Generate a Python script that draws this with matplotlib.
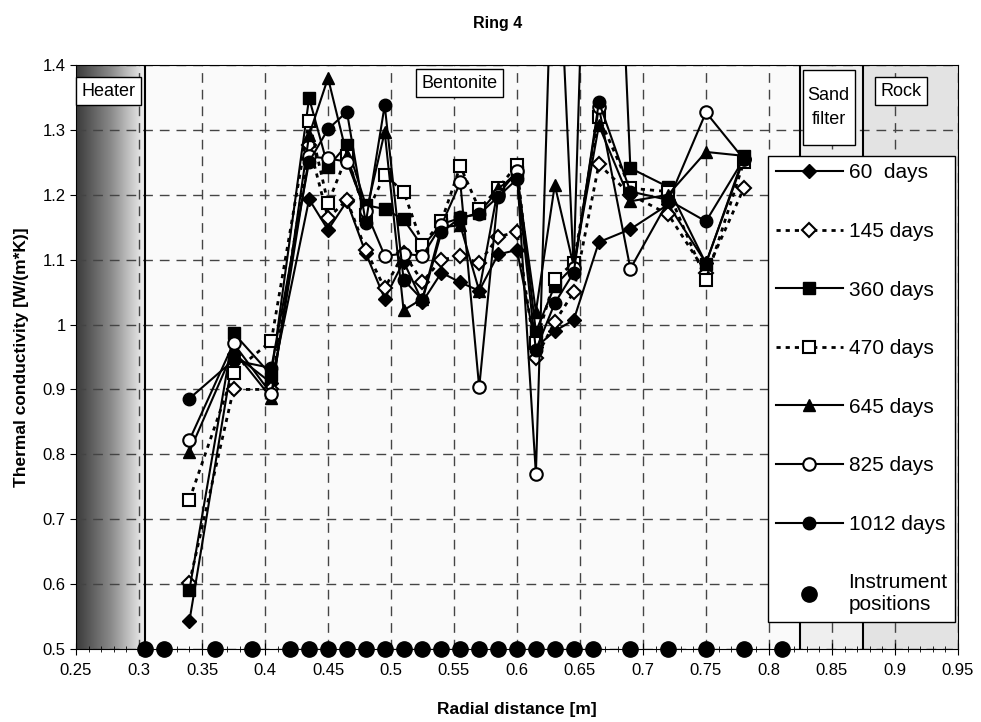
import numpy as np
import matplotlib
matplotlib.use('Agg')
import matplotlib.pyplot as plt
from matplotlib.colors import LinearSegmentedColormap
from matplotlib.patches import Rectangle
from matplotlib.ticker import MultipleLocator, FormatStrFormatter

plt.rcParams['font.family'] = ['Liberation Sans', 'DejaVu Sans']

# radial positions of the measurement points
x = [0.34, 0.375, 0.405, 0.435, 0.45, 0.465, 0.48, 0.495, 0.51, 0.525, 0.54, 0.555,
     0.57, 0.585, 0.6, 0.615, 0.63, 0.645, 0.665, 0.69, 0.72, 0.75, 0.78]

d60 = [0.543, 0.955, 0.91, 1.193, 1.146, 1.19, 1.11, 1.04, 1.097, 1.035, 1.08, 1.065,
       1.052, 1.108, 1.115, 0.965, 0.99, 1.007, 1.127, 1.147, 1.185, 1.095, 1.255]
d145 = [0.602, 0.9, 0.9, 1.277, 1.164, 1.192, 1.115, 1.056, 1.11, 1.066, 1.1, 1.105,
        1.095, 1.135, 1.143, 0.948, 1.004, 1.05, 1.247, 1.2, 1.17, 1.08, 1.21]
d360 = [0.591, 0.987, 0.922, 1.349, 1.243, 1.277, 1.184, 1.178, 1.162, 1.12, 1.155, 1.164,
        1.172, 1.207, 1.235, 0.989, 1.06, 1.09, 2.35, 1.241, 1.212, 1.094, 1.259]
d470 = [0.73, 0.926, 0.975, 1.314, 1.187, 1.26, 1.169, 1.23, 1.205, 1.123, 1.159, 1.244,
        1.178, 1.21, 1.246, 0.972, 1.07, 1.095, 1.32, 1.21, 1.205, 1.069, 1.25]
d645 = [0.804, 0.96, 0.887, 1.292, 1.38, 1.261, 1.17, 1.297, 1.022, 1.04, 1.15, 1.153,
        1.052, 1.21, 1.23, 1.02, 1.215, 1.09, 1.307, 1.19, 1.2, 1.266, 1.26]
d825 = [0.822, 0.971, 0.893, 1.259, 1.256, 1.251, 1.175, 1.106, 1.109, 1.106, 1.153, 1.219,
        0.903, 1.2, 1.236, 0.77, 1.72, 1.087, 1.335, 1.086, 1.19, 1.327, 1.255]
d1012 = [0.886, 0.945, 0.933, 1.251, 1.301, 1.328, 1.157, 1.338, 1.069, 1.038, 1.142, 1.165,
         1.17, 1.197, 1.224, 0.961, 1.033, 1.08, 1.343, 1.205, 1.192, 1.159, 1.255]

instruments = [0.305, 0.32, 0.36, 0.39, 0.42, 0.435, 0.45, 0.465, 0.48, 0.495, 0.51, 0.525,
               0.54, 0.555, 0.57, 0.585, 0.6, 0.615, 0.63, 0.645, 0.66, 0.69, 0.72, 0.75,
               0.78, 0.81]

fig = plt.figure(figsize=(9.81, 7.22), dpi=100)
ax = fig.add_axes([0.0775, 0.1011, 0.899, 0.8089])

# zones
ax.axvspan(0.305, 0.825, color='#fafafa', zorder=0)
ax.axvspan(0.825, 0.875, color='#efefef', zorder=0)
ax.axvspan(0.875, 0.95, color='#e3e3e3', zorder=0)
grad = LinearSegmentedColormap.from_list('heat', ['#3a3a3a', '#8a8a8a', '#f4f4f4'])
ax.imshow(np.linspace(0, 1, 256).reshape(1, -1), cmap=grad, aspect='auto',
          extent=[0.25, 0.305, 0.5, 1.4], zorder=0)
for xb in [0.305, 0.825, 0.875]:
    ax.axvline(xb, color='black', lw=1.5, zorder=1.6)

solid = '-'
dots = (0, (1.5, 1.8))
ax.plot(x, d60, linestyle=solid, color='black', lw=1.5, marker='D', ms=7,
        mfc='black', mec='black', label='60  days')
ax.plot(x, d145, linestyle=dots, color='black', lw=2, marker='D', ms=7,
        mfc='white', mec='black', mew=1.5, label='145 days')
ax.plot(x, d360, linestyle=solid, color='black', lw=1.5, marker='s', ms=9,
        mfc='black', mec='black', label='360 days')
ax.plot(x, d470, linestyle=dots, color='black', lw=2, marker='s', ms=9,
        mfc='white', mec='black', mew=1.5, label='470 days')
ax.plot(x, d645, linestyle=solid, color='black', lw=1.5, marker='^', ms=9,
        mfc='black', mec='black', label='645 days')
ax.plot(x, d825, linestyle=solid, color='black', lw=1.5, marker='o', ms=9,
        mfc='white', mec='black', mew=1.5, label='825 days')
ax.plot(x, d1012, linestyle=solid, color='black', lw=1.5, marker='o', ms=9,
        mfc='black', mec='black', label='1012 days')
ax.plot(instruments, [0.5] * len(instruments), linestyle='none', marker='o', ms=11,
        color='black', clip_on=False, zorder=5, label='Instrument\npositions')

ax.set_xlim(0.25, 0.95)
ax.set_ylim(0.5, 1.4)
ax.xaxis.set_major_locator(MultipleLocator(0.05))
ax.xaxis.set_minor_locator(MultipleLocator(0.01))
ax.yaxis.set_major_locator(MultipleLocator(0.1))
ax.xaxis.set_major_formatter(FormatStrFormatter('%g'))
ax.yaxis.set_major_formatter(FormatStrFormatter('%g'))
ax.tick_params(axis='x', which='major', direction='inout', length=8, labelsize=12, pad=6)
ax.tick_params(axis='x', which='minor', direction='inout', length=5)
ax.tick_params(axis='y', direction='out', length=4, labelsize=12)
ax.grid(True, which='major', color='#444444', lw=1, linestyle=(0, (7, 5)))

ax.set_xlabel('Radial distance [m]', fontsize=12.5, fontweight='bold', labelpad=17)
ax.set_ylabel('Thermal conductivity [W/(m*K)]', fontsize=12.5, fontweight='bold', labelpad=10)
fig.text(0.507, 0.968, 'Ring 4', ha='center', va='center', fontsize=11.5, fontweight='bold')

# zone labels
box = dict(boxstyle='square,pad=0.3', fc='white', ec='black', lw=1)
ax.text(0.2545, 1.373, 'Heater', fontsize=13, va='top', ha='left', bbox=box, zorder=6)
ax.text(0.5545, 1.385, 'Bentonite', fontsize=13, va='top', ha='center', bbox=box, zorder=6)
ax.add_patch(Rectangle((0.8267, 1.277), 0.0413, 0.115, fc='white', ec='black', lw=1,
                       zorder=6))
ax.text(0.8474, 1.3345, 'Sand\nfilter', fontsize=13, va='center', ha='center', zorder=6,
        linespacing=1.55)
ax.text(0.9045, 1.373, 'Rock', fontsize=13, va='top', ha='center', bbox=box, zorder=6)

leg = ax.legend(loc='upper right', bbox_to_anchor=(0.9966, 0.844), borderaxespad=0,
                fontsize=15, labelspacing=1.9, handlelength=3.25, handletextpad=0.25,
                fancybox=False, framealpha=1, edgecolor='black', borderpad=0.35)
leg.get_frame().set_linewidth(1)
leg.set_zorder(7)

plt.savefig('out.png', dpi=100)
